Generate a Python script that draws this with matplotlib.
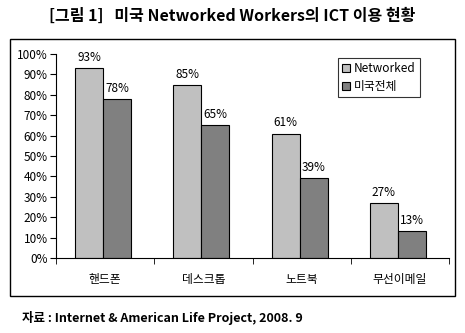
import matplotlib
matplotlib.use("Agg")
import matplotlib.pyplot as plt
from matplotlib.patches import Rectangle
import numpy as np

plt.rcParams['font.family'] = ['Noto Sans CJK KR', 'DejaVu Sans']

categories = ['핸드폰', '데스크톱', '노트북', '무선이메일']
networked = [93, 85, 61, 27]
us_total = [78, 65, 39, 13]
series_names = ['Networked', '미국전체']
yticks = [0, 10, 20, 30, 40, 50, 60, 70, 80, 90, 100]

W, H = 465, 333
fig = plt.figure(figsize=(W / 100, H / 100), dpi=100)

# outer frame
fig.patches.append(Rectangle((10 / W, 1 - 296 / H), 445 / W, 257 / H,
                             transform=fig.transFigure, fill=False,
                             edgecolor='black', linewidth=1.0))

ax = fig.add_axes([56 / W, 1 - 258 / H, 393 / W, 204 / H])
x = np.arange(len(categories))
w = 0.285
off = -0.02
b1 = ax.bar(x + off - w / 2, networked, w, color='#C0C0C0', edgecolor='black', linewidth=0.8, label=series_names[0])
b2 = ax.bar(x + off + w / 2, us_total, w, color='#808080', edgecolor='black', linewidth=0.8, label=series_names[1])

for rect, v in zip(b1, networked):
    ax.text(rect.get_x() + rect.get_width() / 2, v + 2, f'{v}%', ha='center', va='bottom', fontsize=8.5)
for rect, v in zip(b2, us_total):
    ax.text(rect.get_x() + rect.get_width() / 2, v + 2, f'{v}%', ha='center', va='bottom', fontsize=8.5)

ax.set_xlim(-0.5, len(categories) - 0.5)
ax.set_ylim(0, 100)
ax.set_yticks(yticks)
ax.set_yticklabels([f'{t}%' for t in yticks], fontsize=8.5)
ax.set_xticks(x)
ax.set_xticklabels(categories, fontsize=8.5)
ax.tick_params(axis='x', length=0, pad=11)
ax.set_xticks(np.arange(-0.5, len(categories), 1.0), minor=True)
ax.tick_params(axis='x', which='minor', length=4, direction='out')
ax.tick_params(axis='y', length=4, direction='out', pad=2)
ax.spines['top'].set_visible(False)
ax.spines['right'].set_visible(False)
ax.patch.set_alpha(0)

leg = ax.legend(loc='upper left', bbox_to_anchor=((338 - 56) / 393, 1 - (58 - 54) / 204),
                fontsize=8.5, frameon=True, fancybox=False, edgecolor='black',
                handlelength=0.7, handleheight=0.7, handletextpad=0.3,
                borderpad=0.35, labelspacing=0.4, borderaxespad=0)
leg.get_frame().set_linewidth(0.8)

fig.text(232 / W, 1 - 16 / H, '[그림 1]   미국 Networked Workers의 ICT 이용 현황',
         ha='center', va='center', fontsize=11.5, fontweight='bold')
fig.text(22 / W, 1 - 318 / H, '자료 : Internet & American Life Project, 2008. 9',
         ha='left', va='center', fontsize=9, fontweight='bold')

fig.savefig('out.png', dpi=100)
